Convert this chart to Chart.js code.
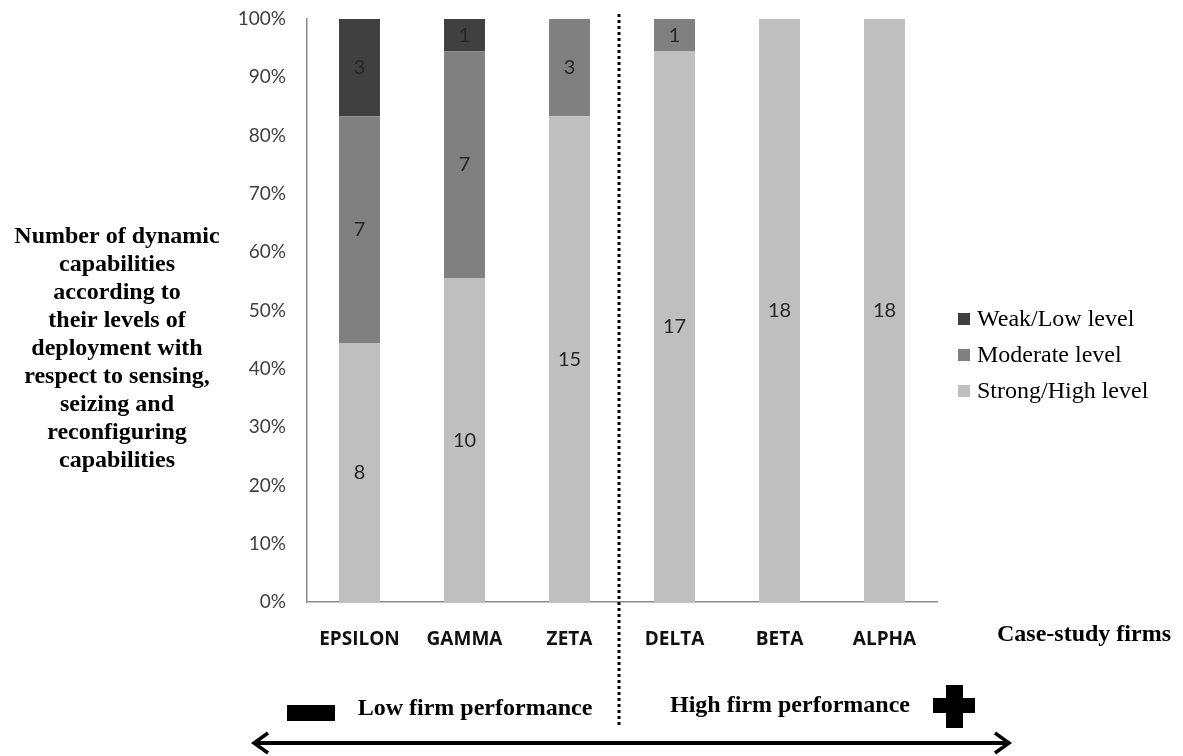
<!DOCTYPE html>
<html>
<head>
<meta charset="utf-8">
<script src="https://cdn.jsdelivr.net/npm/chart.js@4.4.1/dist/chart.umd.min.js"></script>
<style>
  html, body { margin: 0; padding: 0; background: #fff; }
  #wrap { width: 1183px; height: 756px; }
</style>
</head>
<body>
<div id="wrap"><canvas id="chart" width="1183" height="756"></canvas></div>
<script>
var firms = ['EPSILON', 'GAMMA', 'ZETA', 'DELTA', 'BETA', 'ALPHA'];
var strongLevel = [8, 10, 15, 17, 18, 18];
var moderateLevel = [7, 7, 3, 1, 0, 0];
var weakLevel = [3, 1, 0, 0, 0, 0];
var yTicks = [0, 10, 20, 30, 40, 50, 60, 70, 80, 90, 100];

var levelNames = ['Strong/High level', 'Moderate level', 'Weak/Low level'];
var levelColors = ['#bfbfbf', '#808080', '#404040'];

var yTitle = ['Number of dynamic', 'capabilities', 'according to', 'their levels of',
  'deployment with', 'respect to sensing,', 'seizing and', 'reconfiguring', 'capabilities'];

var totals = firms.map(function (f, i) {
  return strongLevel[i] + moderateLevel[i] + weakLevel[i];
});

function toPercent(arr) {
  return arr.map(function (v, i) { return v / totals[i] * 100; });
}

var counts = [strongLevel, moderateLevel, weakLevel];

var serif = '"Liberation Serif", "Times New Roman", serif';

var extras = {
  id: 'extras',
  afterDraw: function (chart) {
    var ctx = chart.ctx;
    var xs = chart.scales.x;
    ctx.save();

    // values inside the bars
    ctx.font = '20px Lato, "Open Sans", sans-serif';
    ctx.fillStyle = '#262626';
    ctx.textAlign = 'center';
    ctx.textBaseline = 'middle';
    counts.forEach(function (arr, d) {
      var meta = chart.getDatasetMeta(d);
      meta.data.forEach(function (bar, i) {
        if (!arr[i]) return;
        ctx.fillText(String(arr[i]), bar.x, (bar.y + bar.base) / 2);
      });
    });

    // dotted separator between low and high performers
    var sepX = (xs.getPixelForValue(2) + xs.getPixelForValue(3)) / 2 - 3;
    ctx.strokeStyle = '#000';
    ctx.lineWidth = 3;
    ctx.setLineDash([3, 3]);
    ctx.beginPath();
    ctx.moveTo(sepX, 14);
    ctx.lineTo(sepX, 728);
    ctx.stroke();
    ctx.setLineDash([]);

    // y axis title
    ctx.font = 'bold 24px ' + serif;
    ctx.fillStyle = '#000';
    ctx.textAlign = 'center';
    ctx.textBaseline = 'alphabetic';
    yTitle.forEach(function (line, k) {
      ctx.fillText(line, 117, 243 + k * 28);
    });

    // x axis title
    ctx.fillText('Case-study firms', 1084, 641);

    // legend (top to bottom: weak, moderate, strong)
    ctx.font = '24px ' + serif;
    ctx.textAlign = 'left';
    ctx.textBaseline = 'middle';
    var rows = [319, 355, 391];
    for (var r = 0; r < 3; r++) {
      var d = 2 - r;
      ctx.fillStyle = levelColors[d];
      ctx.fillRect(958, rows[r] - 6, 12, 12);
      ctx.fillStyle = '#000';
      ctx.fillText(levelNames[d], 977, rows[r] + 1);
    }

    // performance labels
    ctx.textBaseline = 'alphabetic';
    ctx.textAlign = 'center';
    ctx.font = 'bold 24px ' + serif;
    ctx.fillText('Low firm performance', 475, 715);
    ctx.fillText('High firm performance', 790, 712);

    // minus and plus signs
    ctx.fillRect(287, 705, 48, 16);
    ctx.fillRect(946, 685, 17, 43);
    ctx.fillRect(933, 698, 42, 15);

    // double headed arrow
    ctx.lineWidth = 4;
    ctx.beginPath();
    ctx.moveTo(254, 743);
    ctx.lineTo(1009, 743);
    ctx.stroke();
    ctx.lineWidth = 3.5;
    ctx.beginPath();
    ctx.moveTo(268, 733);
    ctx.lineTo(254, 743);
    ctx.lineTo(268, 753);
    ctx.moveTo(995, 733);
    ctx.lineTo(1009, 743);
    ctx.lineTo(995, 753);
    ctx.stroke();

    ctx.restore();
  }
};

var ctx = document.getElementById('chart').getContext('2d');

var chart = new Chart(ctx, {
  type: 'bar',
  data: {
    labels: firms,
    datasets: counts.map(function (arr, d) {
      return {
        label: levelNames[d],
        data: toPercent(arr),
        backgroundColor: levelColors[d],
        borderWidth: 0,
        barPercentage: 0.39,
        categoryPercentage: 1
      };
    })
  },
  options: {
    responsive: false,
    devicePixelRatio: 1,
    animation: false,
    layout: { padding: { top: 19, right: 246, bottom: 0, left: 0 } },
    plugins: {
      legend: { display: false },
      tooltip: { enabled: false }
    },
    scales: {
      x: {
        stacked: true,
        grid: { display: false },
        border: { display: true, color: '#8a8a8a', width: 1.5 },
        ticks: {
          padding: 18,
          color: '#111',
          font: { family: '"Open Sans", sans-serif', size: 19, weight: 'bold' }
        },
        afterFit: function (s) {
          s.height = 154;
          s.paddingLeft = 0;
          s.paddingRight = 0;
        }
      },
      y: {
        stacked: true,
        min: 0,
        max: 100,
        grid: { display: false },
        border: { display: true, color: '#8a8a8a', width: 1.5 },
        afterBuildTicks: function (s) {
          s.ticks = yTicks.map(function (v) { return { value: v }; });
        },
        ticks: {
          padding: 13,
          color: '#404040',
          font: { family: 'Lato, "Open Sans", sans-serif', size: 19 },
          callback: function (v) { return v + '%'; }
        },
        afterFit: function (s) {
          s.width = 307;
          s.paddingTop = 0;
          s.paddingBottom = 0;
        }
      }
    }
  },
  plugins: [extras]
});
</script>
</body>
</html>
